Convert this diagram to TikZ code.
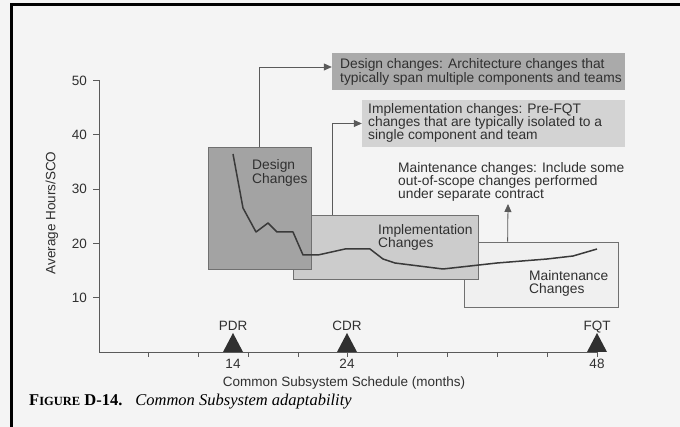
\documentclass[tikz,border=0pt]{standalone}
\usepackage{fontspec}
\setmainfont{Liberation Sans}
\newfontfamily\capfont{Liberation Serif}
\usetikzlibrary{arrows.meta}
\definecolor{bg}{HTML}{F4F4F4}
\definecolor{txt}{HTML}{303030}
\definecolor{axisc}{HTML}{5A5A5A}
\definecolor{dfill}{HTML}{A3A3A3}
\definecolor{dcfill}{HTML}{AAAAAA}
\definecolor{ifill}{HTML}{CCCCCC}
\definecolor{icfill}{HTML}{D3D3D3}
\definecolor{mfill}{HTML}{F0F0F0}
\definecolor{edge}{HTML}{707070}
\definecolor{curvec}{HTML}{3A3A3A}
\tikzset{
  chgbox/.style={draw=edge, line width=0.8pt, inner sep=0pt, rectangle},
  callbox/.style={draw=none, inner sep=0pt, rectangle},
  lbl/.style={font=\fontsize{13.8}{13.3}\selectfont, align=left, inner sep=0pt, text=txt, anchor=north west},
  ticklbl/.style={font=\fontsize{13.5}{14}\selectfont, inner sep=0pt, text=txt},
  conn/.style={draw=axisc, line width=0.8pt, -{Triangle[length=8pt,width=7pt]}},
  milestone/.style={fill=txt, draw=none},
  axisline/.style={draw=axisc, line width=0.9pt}
}
\begin{document}
\begin{tikzpicture}[x=1pt,y=-1pt]
\useasboundingbox (0,0) rectangle (680,427);
\fill[bg] (0,0) rectangle (680,427);
% page frame
\draw[black, line width=3pt] (11,427) -- (11,5) -- (680,5);

% axes
\coordinate (origin) at (99,352);
\coordinate (ytop) at (99,80.5);
\coordinate (xend) at (597,352);
\draw[axisline] (ytop) -- (origin) -- (xend);
\foreach \v/\y in {50/80.5,40/134.8,30/189.1,20/243.4,10/297.7}{
  \draw[axisline] (93,\y) -- (99,\y);
  \node[ticklbl, anchor=east] at (87,\y) {\v};
}
\foreach \x in {148,198,248,298,347,397,447,497,547,597}{
  \draw[axisline] (\x,352) -- (\x,357);
}
\node[ticklbl, rotate=90] (ylab) at (52,213) {Average Hours/SCO};

% change boxes
\node[chgbox, fill=mfill, minimum width=154pt, minimum height=65pt] (mbox) at (541,274.5) {};
\node[chgbox, fill=ifill, minimum width=185pt, minimum height=64pt] (ibox) at (385.5,247) {};
\node[chgbox, fill=dfill, minimum width=103pt, minimum height=122pt] (dbox) at (259.5,208) {};

% callout boxes
\node[callbox, fill=dcfill, minimum width=293pt, minimum height=37pt] (dcall) at (478.5,71.5) {};
\node[callbox, fill=icfill, minimum width=263pt, minimum height=47pt] (icall) at (493.5,123.5) {};

% callout texts
\node[lbl] (dctext) at (340,58.6) {Design changes: Architecture changes that\\typically span multiple components and teams};
\node[lbl] (ictext) at (368,103) {Implementation changes: Pre-FQT\\changes that are typically isolated to a\\single component and team};
\node[lbl] (mctext) at (398,162) {Maintenance changes: Include some\\out-of-scope changes performed\\under separate contract};

% box texts
\node[lbl] (dtext) at (252,159.6) {Design\\Changes};
\node[lbl] (itext) at (378,224.5) {Implementation\\Changes};
\node[lbl] (mtext) at (529,270.5) {Maintenance\\Changes};

% connectors
\draw[conn] (dbox.north) |- ([yshift=4.5pt]dcall.west);
\draw[conn] ([xshift=40pt]ibox.north west) |- (icall.west);
\coordinate (mtip) at (508,204);
\draw[conn] ([xshift=44pt]mbox.north west) -- (mtip);

% curve
\draw[curvec, line width=1.5pt, line join=round] (233,154) -- (243,208) -- (256,232) -- (268,223) -- (277,232) -- (293,232) -- (303,255) -- (318,255) -- (345,249) -- (370,249) -- (383,259) -- (395,263) -- (443,269) -- (497,263) -- (547,259) -- (573,256) -- (597,249);

% milestones
\foreach \x in {233,347,597}{
  \fill[milestone] (\x-10,352) -- (\x,333) -- (\x+10,352) -- cycle;
}
\node[ticklbl, anchor=base] (pdr) at (233,331) {PDR};
\node[ticklbl, anchor=base] (cdr) at (347,331) {CDR};
\node[ticklbl, anchor=base] (fqt) at (597,331) {FQT};
\node[ticklbl, anchor=base] (t14) at (233,368.5) {14};
\node[ticklbl, anchor=base] (t24) at (347,368.5) {24};
\node[ticklbl, anchor=base] (t48) at (597,368.5) {48};
\node[ticklbl, anchor=base] (xlab) at (344,387) {Common Subsystem Schedule (months)};

% caption
\node[inner sep=0pt, anchor=base west, text=black] (cap) at (29,405.5) {\capfont\fontsize{16.5}{18}\selectfont\textbf{F{\fontsize{12.5}{14}\selectfont IGURE} D-14.}\hspace{13pt}\itshape Common Subsystem adaptability};
\end{tikzpicture}
\end{document}
